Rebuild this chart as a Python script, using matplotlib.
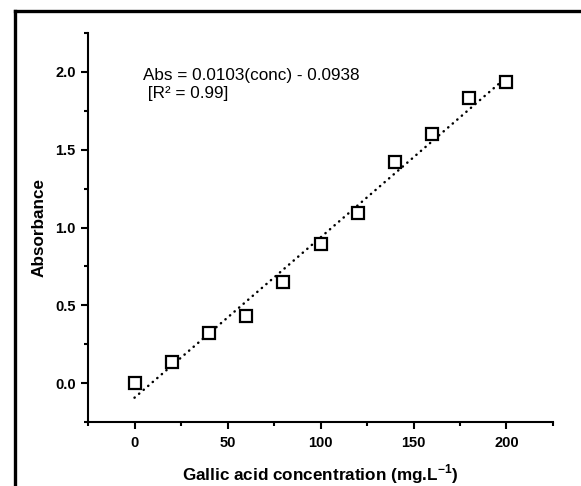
import matplotlib
matplotlib.use('Agg')
import matplotlib.pyplot as plt
from matplotlib.lines import Line2D
from matplotlib.ticker import MultipleLocator, FormatStrFormatter

plt.rcParams['font.family'] = ['Liberation Sans', 'DejaVu Sans']
plt.rcParams['mathtext.fontset'] = 'custom'
plt.rcParams['mathtext.rm'] = 'Liberation Sans'
plt.rcParams['mathtext.bf'] = 'Liberation Sans:bold'

# calibration data
conc = [0, 20, 40, 60, 80, 100, 120, 140, 160, 180, 200]
absorbance = [0.0, 0.136, 0.325, 0.433, 0.651, 0.897, 1.095, 1.418, 1.604, 1.830, 1.936]

# linear fit shown on the chart
slope = 0.0103
intercept = -0.0938
fit_x = [0, 200]
fit_y = [slope * v + intercept for v in fit_x]

fig = plt.figure(figsize=(5.81, 4.86), dpi=100)
ax = fig.add_axes([0.1515, 0.1317, 0.8003, 0.8003])

# frame lines of the original picture (top + left only)
fig.add_artist(Line2D([0.025, 1.0], [0.9774, 0.9774], color='black', lw=2.4,
                      transform=fig.transFigure))
fig.add_artist(Line2D([0.025, 0.025], [0.0, 0.9774], color='black', lw=2.4,
                      transform=fig.transFigure))

ax.plot(fit_x, fit_y, color='black', lw=1.8, linestyle=(0, (0.1, 2.3)),
        dash_capstyle='round')
ax.plot(conc, absorbance, linestyle='none', marker='s', markersize=8,
        markerfacecolor='white', markeredgecolor='black', markeredgewidth=1.6)

ax.set_xlim(-25, 225)
ax.set_ylim(-0.25, 2.25)
ax.xaxis.set_major_locator(MultipleLocator(50))
ax.xaxis.set_minor_locator(MultipleLocator(25))
ax.yaxis.set_major_locator(MultipleLocator(0.5))
ax.yaxis.set_minor_locator(MultipleLocator(0.25))
ax.yaxis.set_major_formatter(FormatStrFormatter('%.1f'))

for s in ['top', 'right']:
    ax.spines[s].set_visible(False)
for s in ['left', 'bottom']:
    ax.spines[s].set_linewidth(1.5)

ax.tick_params(which='major', direction='out', length=5, width=1.5, pad=4)
ax.tick_params(which='minor', direction='out', length=3, width=1.5)
ax.tick_params(axis='x', which='major', pad=5)
plt.setp(ax.get_xticklabels() + ax.get_yticklabels(), fontweight='bold',
         fontsize=10.5)

ax.set_xlabel(r'Gallic acid concentration (mg.L$^{\mathbf{-1}}$)', fontsize=12.3,
              fontweight='bold', labelpad=9)
ax.set_ylabel('Absorbance', fontsize=12.3, fontweight='bold', labelpad=6)

ax.text(4.3, 1.95, 'Abs = 0.0103(conc) - 0.0938', fontsize=12.3, va='baseline')
ax.text(4.3, 1.83, ' [R\u00b2 = 0.99]', fontsize=12.3, va='baseline')

fig.savefig('out.png', dpi=100)
